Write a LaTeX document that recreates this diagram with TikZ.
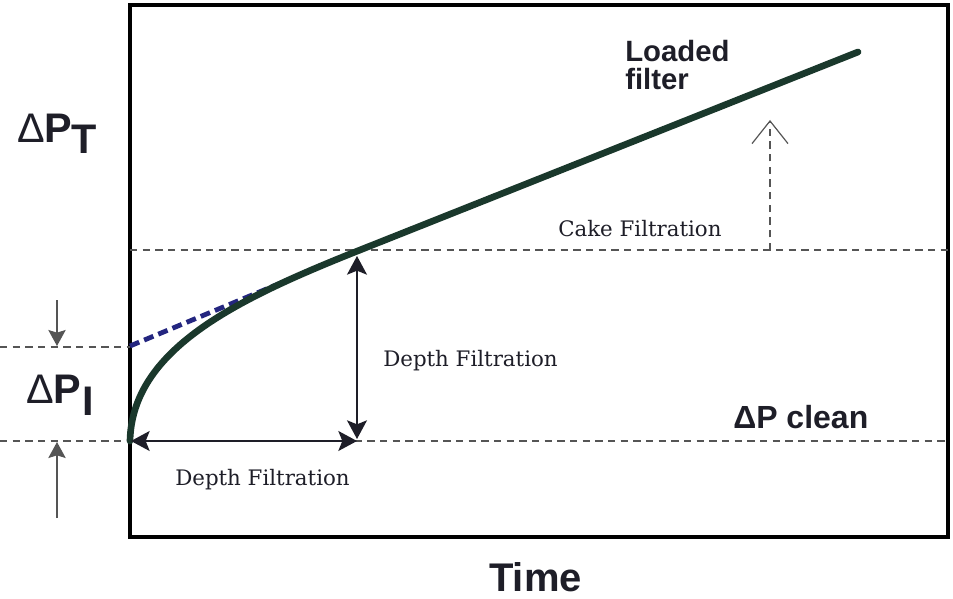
\documentclass[tikz,border=0pt]{standalone}
\usepackage{fontspec}
\setmainfont{Liberation Sans}
\newfontfamily\labelserif{DejaVu Serif}
\usetikzlibrary{arrows.meta}

\definecolor{curvegreen}{RGB}{26,56,44}
\definecolor{tangentblue}{RGB}{36,38,128}
\definecolor{guidegray}{RGB}{85,85,85}
\definecolor{inkdark}{RGB}{30,30,40}

\begin{document}
\begin{tikzpicture}[x=0.75pt,y=-0.75pt,
  frame/.style={draw=black, line width=2.3pt},
  guide/.style={draw=guidegray, line width=1pt, dash pattern=on 5.5pt off 4pt},
  loadcurve/.style={draw=curvegreen, line width=5pt, line cap=round},
  tangent/.style={draw=tangentblue, line width=3.6pt, dash pattern=on 7.5pt off 4pt},
  span/.style={draw=inkdark, line width=1.3pt, {Stealth[length=14pt,width=15pt,inset=3pt]}-{Stealth[length=14pt,width=15pt,inset=3pt]}},
  bracket/.style={draw=guidegray, line width=1.1pt, -{Stealth[length=12pt,width=13pt,inset=2pt]}},
  rise/.style={draw=guidegray, line width=0.9pt, dash pattern=on 5.5pt off 4pt, -{Straight Barb[length=17pt,width=27pt,line width=0.9pt]}},
  deltalabel/.style={inner sep=0pt, anchor=base west, text=inkdark, font=\fontsize{31}{31}\selectfont\bfseries},
  sanslabel/.style={inner sep=0pt, anchor=base west, text=inkdark, font=\bfseries},
  seriflabel/.style={inner sep=0pt, anchor=base west, text=inkdark, font=\labelserif\fontsize{16}{16}\selectfont}
]
\useasboundingbox (0,0) rectangle (953,599);
\fill[white] (0,0) rectangle (953,599);

% plot frame
\coordinate (boxNW) at (130,5);
\coordinate (boxSE) at (948,537);
\draw[frame] (boxNW) rectangle (boxSE);

% reference levels
\coordinate (cakeL) at (130,250);
\coordinate (cakeR) at (948,250);
\coordinate (initL) at (0,347);
\coordinate (initR) at (130,347);
\coordinate (cleanL) at (0,441);
\coordinate (cleanR) at (948,441);
\draw[guide] (cakeL) -- (cakeR);
\draw[guide] (initL) -- (initR);
\draw[guide] (cleanL) -- (cleanR);

% pressure-drop curve: depth filtration, then linear cake growth
\coordinate (start) at (130,441);
\coordinate (knee) at (355,252);
\coordinate (finish) at (858,52);
\coordinate (intercept) at (130,346);
\draw[tangent] (intercept) -- (knee);
\draw[loadcurve] (start) .. controls (132,350) and (235,300) .. (knee) -- (finish);

% depth filtration spans
\coordinate (hspanL) at (131,441);
\coordinate (hspanR) at (357,441);
\coordinate (vspanT) at (357,256);
\coordinate (vspanB) at (357,439);
\draw[span] (hspanL) -- (hspanR);
\draw[span] (vspanT) -- (vspanB);

% brackets for the initial pressure jump
\coordinate (downFrom) at (57,300);
\coordinate (downTo) at (57,346);
\coordinate (upFrom) at (57,518);
\coordinate (upTo) at (57,442);
\draw[bracket] (downFrom) -- (downTo);
\draw[bracket] (upFrom) -- (upTo);

% cake build-up indicator
\coordinate (riseFrom) at (770,250);
\coordinate (riseTo) at (770,120);
\draw[rise] (riseFrom) -- (riseTo);

% labels
\node[deltalabel] (dpt) at (17,143) {{\mdseries Δ}\kern-0.5ptP\raisebox{-0.26em}{T}};
\node[deltalabel] (dpi) at (26,403) {{\mdseries Δ}\kern-0.5ptP\raisebox{-0.3em}{\kern1ptI}};
\node[sanslabel, font=\bfseries\fontsize{22}{21}\selectfont, align=left, anchor=north west] (loaded) at (625,40) {Loaded\\filter};
\node[sanslabel, font=\bfseries\fontsize{24}{24}\selectfont] (clean) at (733,428) {ΔP clean};
\node[sanslabel, font=\bfseries\fontsize{30}{30}\selectfont] (time) at (489,591) {Time};
\node[seriflabel] (cake) at (558,237) {Cake Filtration};
\node[seriflabel] (depthV) at (383,366) {Depth Filtration};
\node[seriflabel] (depthH) at (175,485) {Depth Filtration};
\end{tikzpicture}
\end{document}
